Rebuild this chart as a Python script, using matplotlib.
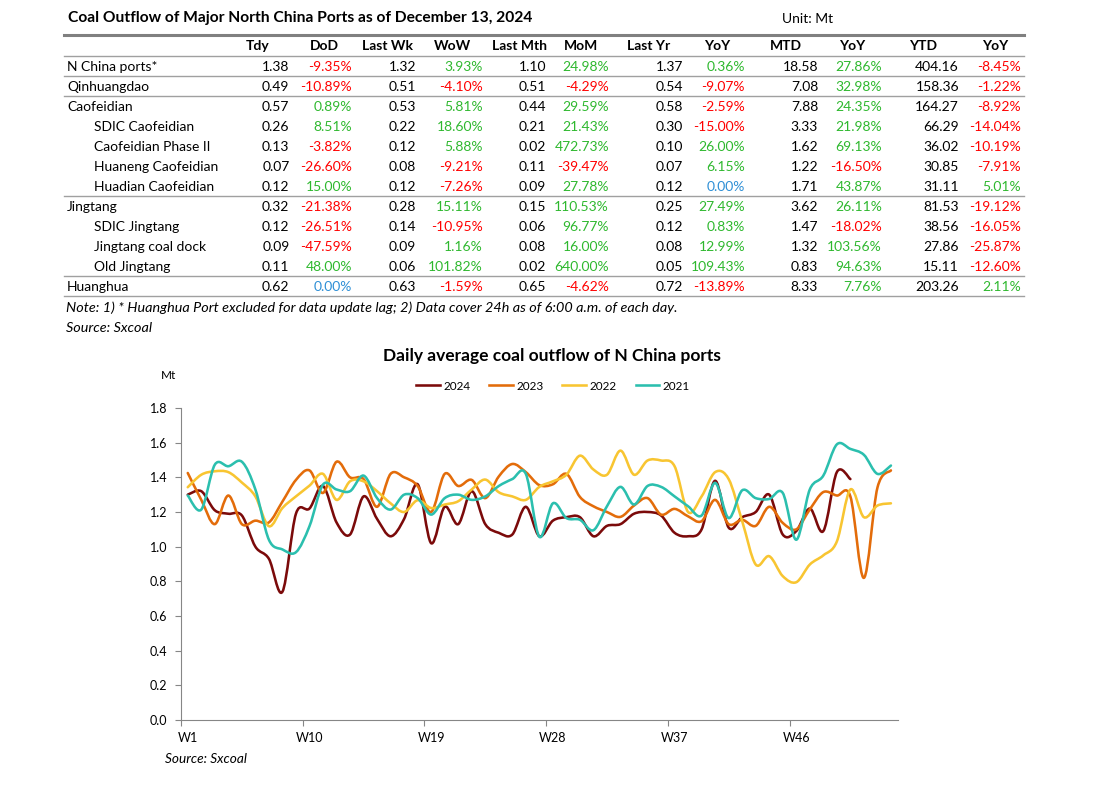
import matplotlib.pyplot as plt
from matplotlib.path import Path
from matplotlib.patches import PathPatch
from matplotlib.lines import Line2D

# ---- table data ----
row_names = ["N China ports*", "Qinhuangdao", "Caofeidian", "SDIC Caofeidian",
             "Caofeidian Phase II", "Huaneng Caofeidian", "Huadian Caofeidian",
             "Jingtang", "SDIC Jingtang", "Jingtang coal dock", "Old Jingtang", "Huanghua"]
row_indent = [0, 0, 0, 1, 1, 1, 1, 0, 1, 1, 1, 0]
headers = ["Tdy", "DoD", "Last Wk", "WoW", "Last Mth", "MoM", "Last Yr", "YoY",
           "MTD", "YoY", "YTD", "YoY"]

tdy = [1.38, 0.49, 0.57, 0.26, 0.13, 0.07, 0.12, 0.32, 0.12, 0.09, 0.11, 0.62]
dod = [-9.35, -10.89, 0.89, 8.51, -3.82, -26.60, 15.00, -21.38, -26.51, -47.59, 48.00, 0.00]
last_wk = [1.32, 0.51, 0.53, 0.22, 0.12, 0.08, 0.12, 0.28, 0.14, 0.09, 0.06, 0.63]
wow = [3.93, -4.10, 5.81, 18.60, 5.88, -9.21, -7.26, 15.11, -10.95, 1.16, 101.82, -1.59]
last_mth = [1.10, 0.51, 0.44, 0.21, 0.02, 0.11, 0.09, 0.15, 0.06, 0.08, 0.02, 0.65]
mom = [24.98, -4.29, 29.59, 21.43, 472.73, -39.47, 27.78, 110.53, 96.77, 16.00, 640.00, -4.62]
last_yr = [1.37, 0.54, 0.58, 0.30, 0.10, 0.07, 0.12, 0.25, 0.12, 0.08, 0.05, 0.72]
yoy = [0.36, -9.07, -2.59, -15.00, 26.00, 6.15, 0.00, 27.49, 0.83, 12.99, 109.43, -13.89]
mtd = [18.58, 7.08, 7.88, 3.33, 1.62, 1.22, 1.71, 3.62, 1.47, 1.32, 0.83, 8.33]
mtd_yoy = [27.86, 32.98, 24.35, 21.98, 69.13, -16.50, 43.87, 26.11, -18.02, 103.56, 94.63, 7.76]
ytd = [404.16, 158.36, 164.27, 66.29, 36.02, 30.85, 31.11, 81.53, 38.56, 27.86, 15.11, 203.26]
ytd_yoy = [-8.45, -1.22, -8.92, -14.04, -10.19, -7.91, 5.01, -19.12, -16.05, -25.87, -12.60, 2.11]

# ---- chart data (weekly, Mt/day) ----
weeks = list(range(1, 54))
week_ticks = [1, 10, 19, 28, 37, 46]
week_labels = ["W1", "W10", "W19", "W28", "W37", "W46"]

s2024 = [1.30, 1.32, 1.21, 1.19, 1.18, 1.00, 0.93, 0.74, 1.19, 1.22, 1.35, 1.14, 1.07,
         1.29, 1.16, 1.06, 1.16, 1.36, 1.02, 1.23, 1.13, 1.32, 1.13, 1.08, 1.07, 1.23,
         1.06, 1.15, 1.17, 1.17, 1.06, 1.12, 1.13, 1.19, 1.20, 1.18, 1.08, 1.06, 1.10,
         1.38, 1.11, 1.17, 1.20, 1.30, 1.07, 1.09, 1.22, 1.09, 1.43, 1.39]
s2023 = [1.425, 1.27, 1.13, 1.295, 1.13, 1.15, 1.14, 1.26, 1.385, 1.44, 1.31, 1.49, 1.40,
         1.39, 1.23, 1.42, 1.40, 1.35, 1.20, 1.42, 1.35, 1.385, 1.28, 1.405, 1.477, 1.43,
         1.355, 1.36, 1.42, 1.287, 1.233, 1.20, 1.172, 1.237, 1.28, 1.185, 1.218, 1.175,
         1.147, 1.27, 1.13, 1.155, 1.12, 1.23, 1.137, 1.10, 1.215, 1.315, 1.295, 1.29,
         0.82, 1.34, 1.44]
s2022 = [1.343, 1.415, 1.435, 1.43, 1.37, 1.29, 1.118, 1.223, 1.29, 1.352, 1.42, 1.27,
         1.377, 1.377, 1.32, 1.25, 1.20, 1.268, 1.223, 1.243, 1.262, 1.33, 1.387, 1.314,
         1.29, 1.27, 1.345, 1.377, 1.415, 1.525, 1.445, 1.415, 1.554, 1.415, 1.497, 1.497,
         1.464, 1.20, 1.29, 1.43, 1.39, 1.147, 0.897, 0.945, 0.83, 0.795, 0.897, 0.95,
         1.03, 1.33, 1.17, 1.237, 1.25]
s2021 = [1.295, 1.214, 1.473, 1.464, 1.49, 1.33, 1.04, 0.984, 0.968, 1.118, 1.358, 1.33,
         1.32, 1.41, 1.28, 1.214, 1.30, 1.28, 1.185, 1.28, 1.30, 1.27, 1.29, 1.35, 1.39,
         1.42, 1.057, 1.25, 1.165, 1.155, 1.095, 1.233, 1.345, 1.243, 1.35, 1.345, 1.29,
         1.233, 1.18, 1.368, 1.165, 1.325, 1.28, 1.275, 1.31, 1.04, 1.33, 1.41, 1.59,
         1.564, 1.53, 1.42, 1.468]

series = [("2024", s2024, "#7b0a0a"), ("2023", s2023, "#e36c0a"),
          ("2022", s2022, "#f8c531"), ("2021", s2021, "#2bbfae")]

W, H = 1096, 788
RED, GREEN, BLUE = "#ff0000", "#2eb82e", "#2e8fd6"
plt.rcParams['font.family'] = ['Lato', 'DejaVu Sans']

fig = plt.figure(figsize=(W / 100, H / 100), dpi=100)


def fx(x):
    return x / W


def fy(y):
    return 1 - y / H


def hline(y, x0, x1, lw, color):
    fig.add_artist(Line2D([fx(x0), fx(x1)], [fy(y), fy(y)], lw=lw, color=color,
                          transform=fig.transFigure))


def pct_color(v):
    if v > 0:
        return GREEN
    if v < 0:
        return RED
    return BLUE


# ---- table ----
fs = 10
fig.text(fx(68), fy(18), "Coal Outflow of Major North China Ports as of December 13, 2024",
         fontsize=11.25, fontweight="bold", va="center")
fig.text(fx(782), fy(19), "Unit: Mt", fontsize=fs, va="center")

col_right = [289.5, 352, 416, 483, 546, 609, 683, 745, 818, 882, 959, 1021]
head_center = [258, 324, 387, 452, 519, 581, 649, 717, 786, 852, 923, 995]
columns = [tdy, dod, last_wk, wow, last_mth, mom, last_yr, yoy, mtd, mtd_yoy, ytd, ytd_yoy]
is_pct = [False, True, False, True, False, True, False, True, False, True, False, True]

hline(35, 64, 1024, 2.2, "#808080")
for h, xc in zip(headers, head_center):
    fig.text(fx(xc), fy(46.5), h, fontsize=fs, fontweight="bold", ha="center", va="center")
hline(56, 64, 1024, 1.0, "#a0a0a0")

for i, name in enumerate(row_names):
    y = 66.7 + 20 * i
    fig.text(fx(67 + 27 * row_indent[i]), fy(y), name, fontsize=fs, va="center")
    for col, xr, pct in zip(columns, col_right, is_pct):
        v = col[i]
        if pct:
            fig.text(fx(xr), fy(y), f"{v:.2f}%", fontsize=fs, ha="right", va="center",
                     color=pct_color(v))
        else:
            fig.text(fx(xr), fy(y), f"{v:.2f}", fontsize=fs, ha="right", va="center")

for after in [0, 1, 6, 10, 11]:
    hline(66.7 + 20 * after + 9.5, 64, 1024, 1.0, "#a0a0a0")

fig.text(fx(66), fy(307.5), "Note: 1) * Huanghua Port excluded for data update lag; "
         "2) Data cover 24h as of 6:00 a.m. of each day.", fontsize=10.4, style="italic",
         va="center")
fig.text(fx(66), fy(328.5), "Source: Sxcoal", fontsize=10.4, style="italic", va="center")

# ---- chart ----
ax = fig.add_axes([fx(181), 1 - 720 / H, (897.7 - 181) / W, (720 - 408) / H])


def smooth_path(xs, ys):
    # Bezier curve through the points, like a smoothed spreadsheet line
    pts = list(zip(xs, ys))
    n = len(pts)
    verts = [pts[0]]
    codes = [Path.MOVETO]
    for i in range(n - 1):
        p0 = pts[i - 1] if i > 0 else pts[i]
        p1 = pts[i]
        p2 = pts[i + 1]
        p3 = pts[i + 2] if i + 2 < n else pts[i + 1]
        c1 = (p1[0] + (p2[0] - p0[0]) / 6, p1[1] + (p2[1] - p0[1]) / 6)
        c2 = (p2[0] - (p3[0] - p1[0]) / 6, p2[1] - (p3[1] - p1[1]) / 6)
        verts += [c1, c2, p2]
        codes += [Path.CURVE4] * 3
    return Path(verts, codes)


handles = []
for label, vals, color in series:
    path = smooth_path(weeks[:len(vals)], vals)
    ax.add_patch(PathPatch(path, fill=False, edgecolor=color, lw=1.85,
                           capstyle="round", joinstyle="round"))
    handles.append(Line2D([], [], color=color, lw=1.85, label=label))

ax.set_xlim(0.5, 53.5)
ax.set_ylim(0, 1.8)
ax.set_yticks([0.0, 0.2, 0.4, 0.6, 0.8, 1.0, 1.2, 1.4, 1.6, 1.8])
ax.yaxis.set_major_formatter(plt.FormatStrFormatter("%.1f"))
ax.set_xticks([t - 0.5 for t in week_ticks])
ax.set_xticklabels([])
ax.set_xticks(week_ticks, minor=True)
ax.set_xticklabels(week_labels, minor=True)
ax.tick_params(axis="x", which="major", length=4, color="#868686", width=0.8)
ax.tick_params(axis="x", which="minor", length=0, pad=9, labelsize=9)
ax.tick_params(axis="y", length=4, color="#868686", width=0.8, pad=6, labelsize=9)
for s in ["top", "right"]:
    ax.spines[s].set_visible(False)
for s in ["left", "bottom"]:
    ax.spines[s].set_color("#868686")
    ax.spines[s].set_linewidth(0.8)

fig.text(fx(552), fy(356), "Daily average coal outflow of N China ports", fontsize=12.5,
         fontweight="bold", ha="center", va="center")
fig.text(fx(169), fy(375), "Mt", fontsize=8.5, ha="center", va="center")
fig.legend(handles=handles, loc="center", bbox_to_anchor=(fx(553), fy(386)), ncol=4,
           frameon=False, fontsize=8.5, handlelength=2.0, handletextpad=0.3,
           columnspacing=1.6)
fig.text(fx(165), fy(759), "Source: Sxcoal", fontsize=9.8, style="italic", va="center")

fig.savefig("out.png", dpi=100)
